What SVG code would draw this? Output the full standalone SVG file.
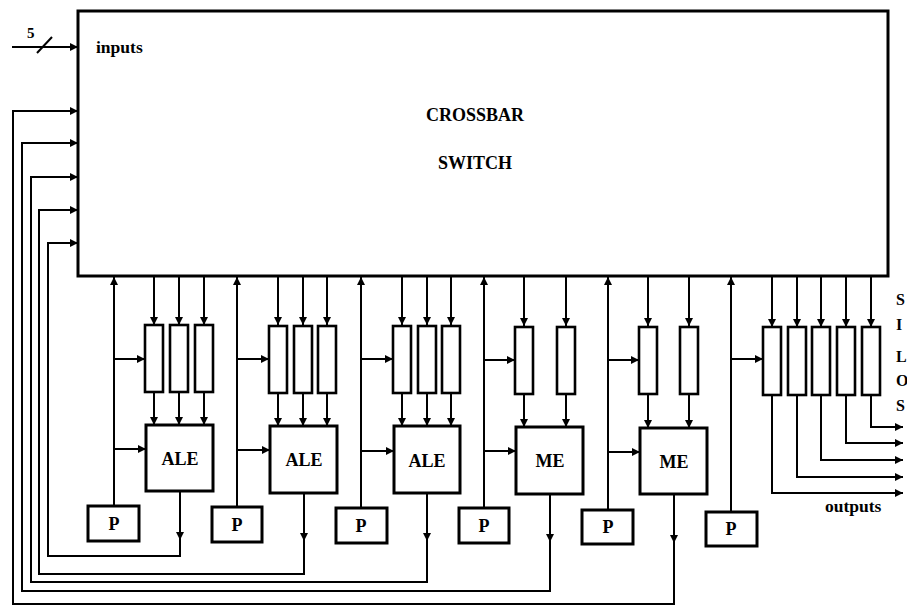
<svg xmlns="http://www.w3.org/2000/svg" width="907" height="608" viewBox="0 0 907 608">
<defs>
<marker id="ah" viewBox="0 0 10 10" refX="10" refY="5" markerWidth="8" markerHeight="8" markerUnits="userSpaceOnUse" orient="auto">
<path d="M0,0 L10,5 L0,10 z" fill="#000"/>
</marker>
<style>
.box{fill:#fff;stroke:#000;stroke-width:3}
.reg{fill:#fff;stroke:#000;stroke-width:2.6}
.ln{fill:none;stroke:#000;stroke-width:2}
.ar{fill:none;stroke:#000;stroke-width:2;marker-end:url(#ah)}
.t{font-family:"Liberation Serif","DejaVu Serif",serif;font-weight:bold;fill:#000}
.lbl{font-size:18px;text-anchor:middle}
</style>
</defs>
<rect width="907" height="608" fill="#fff"/>

<g id="connectors">
<!-- input -->
<path class="ar" d="M12,47 H78"/>
<path class="ln" d="M37,53 L52,37"/>
<!-- feedback loops -->
<path class="ar" d="M180,491 V540"/>
<path class="ar" d="M180,536 V556 H48 V243 H78"/>
<path class="ar" d="M304,493 V541"/>
<path class="ar" d="M304,537 V574 H39 V210 H78"/>
<path class="ar" d="M427,493 V541"/>
<path class="ar" d="M427,537 V582 H31 V177 H78"/>
<path class="ar" d="M550,494 V542"/>
<path class="ar" d="M550,538 V591 H22 V143 H78"/>
<path class="ar" d="M674,494 V543"/>
<path class="ar" d="M674,539 V604 H13 V111 H78"/>
<!-- group 1 -->
<path class="ar" d="M114,506 V277"/>
<path class="ar" d="M114,359 H145"/>
<path class="ar" d="M114,449 H146"/>
<path class="ar" d="M154,277 V325"/><path class="ar" d="M179,277 V325"/><path class="ar" d="M204,277 V325"/>
<path class="ar" d="M154,392 V425"/><path class="ar" d="M179,392 V425"/><path class="ar" d="M204,392 V425"/>
<!-- group 2 -->
<path class="ar" d="M237,507 V277"/>
<path class="ar" d="M237,359 H269"/>
<path class="ar" d="M237,450 H270"/>
<path class="ar" d="M278,277 V325"/><path class="ar" d="M303,277 V325"/><path class="ar" d="M327,277 V325"/>
<path class="ar" d="M278,393 V426"/><path class="ar" d="M303,393 V426"/><path class="ar" d="M327,393 V426"/>
<!-- group 3 -->
<path class="ar" d="M361,508 V277"/>
<path class="ar" d="M361,359 H393"/>
<path class="ar" d="M361,451 H394"/>
<path class="ar" d="M402,277 V325"/><path class="ar" d="M427,277 V325"/><path class="ar" d="M451,277 V325"/>
<path class="ar" d="M402,393 V426"/><path class="ar" d="M427,393 V426"/><path class="ar" d="M451,393 V426"/>
<!-- group 4 -->
<path class="ar" d="M484,508 V277"/>
<path class="ar" d="M484,360 H515"/>
<path class="ar" d="M484,451 H516"/>
<path class="ar" d="M524,277 V326"/><path class="ar" d="M566,277 V326"/>
<path class="ar" d="M524,394 V427"/><path class="ar" d="M566,394 V427"/>
<!-- group 5 -->
<path class="ar" d="M608,510 V277"/>
<path class="ar" d="M608,360 H639"/>
<path class="ar" d="M608,452 H640"/>
<path class="ar" d="M648,277 V326"/><path class="ar" d="M689,277 V326"/>
<path class="ar" d="M648,394 V428"/><path class="ar" d="M689,394 V428"/>
<!-- silos -->
<path class="ar" d="M731,512 V277"/>
<path class="ar" d="M731,359 H763"/>
<path class="ar" d="M772,277 V327"/><path class="ar" d="M797,277 V327"/><path class="ar" d="M821,277 V327"/><path class="ar" d="M846,277 V327"/><path class="ar" d="M871,277 V327"/>
<path class="ar" d="M871,395 V427 H903"/>
<path class="ar" d="M846,395 V443 H903"/>
<path class="ar" d="M821,395 V460 H903"/>
<path class="ar" d="M797,395 V477 H903"/>
<path class="ar" d="M772,395 V493 H903"/>
</g>

<g id="crossbar">
<rect class="box" x="78" y="11" width="810" height="265"/>
<text class="t lbl" x="475" y="121" font-size="17.5">CROSSBAR</text>
<text class="t lbl" x="475" y="169" font-size="17.5">SWITCH</text>
<text class="t" x="96" y="53" font-size="17.5">inputs</text>
</g>
<text id="width5" class="t" x="27" y="38" font-size="15">5</text>

<g id="regs1">
<rect class="reg" x="145" y="325" width="18" height="67"/>
<rect class="reg" x="170" y="325" width="18" height="67"/>
<rect class="reg" x="195" y="325" width="18" height="67"/>
</g>
<g id="ale1"><rect class="box" x="146" y="425" width="67" height="66"/><text class="t lbl" x="180" y="465">ALE</text></g>
<g id="p1"><rect class="box" x="88" y="506" width="51" height="35"/><text class="t lbl" x="114" y="530">P</text></g>

<g id="regs2">
<rect class="reg" x="269" y="326" width="18" height="67"/>
<rect class="reg" x="294" y="326" width="18" height="67"/>
<rect class="reg" x="318" y="326" width="18" height="67"/>
</g>
<g id="ale2"><rect class="box" x="270" y="426" width="67" height="67"/><text class="t lbl" x="304" y="466">ALE</text></g>
<g id="p2"><rect class="box" x="212" y="507" width="50" height="35"/><text class="t lbl" x="237" y="531">P</text></g>

<g id="regs3">
<rect class="reg" x="393" y="326" width="18" height="67"/>
<rect class="reg" x="418" y="326" width="18" height="67"/>
<rect class="reg" x="442" y="326" width="18" height="67"/>
</g>
<g id="ale3"><rect class="box" x="394" y="426" width="66" height="67"/><text class="t lbl" x="427" y="467">ALE</text></g>
<g id="p3"><rect class="box" x="336" y="508" width="51" height="35"/><text class="t lbl" x="361" y="532">P</text></g>

<g id="regs4">
<rect class="reg" x="515" y="327" width="18" height="67"/>
<rect class="reg" x="557" y="327" width="18" height="67"/>
</g>
<g id="me1"><rect class="box" x="516" y="427" width="67" height="67"/><text class="t lbl" x="550" y="467">ME</text></g>
<g id="p4"><rect class="box" x="459" y="508" width="50" height="35"/><text class="t lbl" x="484" y="532">P</text></g>

<g id="regs5">
<rect class="reg" x="639" y="327" width="18" height="67"/>
<rect class="reg" x="680" y="327" width="18" height="67"/>
</g>
<g id="me2"><rect class="box" x="640" y="428" width="67" height="66"/><text class="t lbl" x="674" y="468">ME</text></g>
<g id="p5"><rect class="box" x="582" y="510" width="51" height="34"/><text class="t lbl" x="608" y="533">P</text></g>

<g id="silos">
<rect class="reg" x="763" y="327" width="18" height="68"/>
<rect class="reg" x="788" y="327" width="18" height="68"/>
<rect class="reg" x="812" y="327" width="18" height="68"/>
<rect class="reg" x="837" y="327" width="18" height="68"/>
<rect class="reg" x="862" y="327" width="18" height="68"/>
<text class="t" x="896" y="305" font-size="16">S</text>
<text class="t" x="896" y="330" font-size="16">I</text>
<text class="t" x="896" y="362" font-size="16">L</text>
<text class="t" x="896" y="386" font-size="16">O</text>
<text class="t" x="896" y="411" font-size="16">S</text>
<text class="t" x="825" y="512" font-size="17.5">outputs</text>
</g>
<g id="p6"><rect class="box" x="706" y="512" width="51" height="34"/><text class="t lbl" x="731" y="535">P</text></g>
</svg>
